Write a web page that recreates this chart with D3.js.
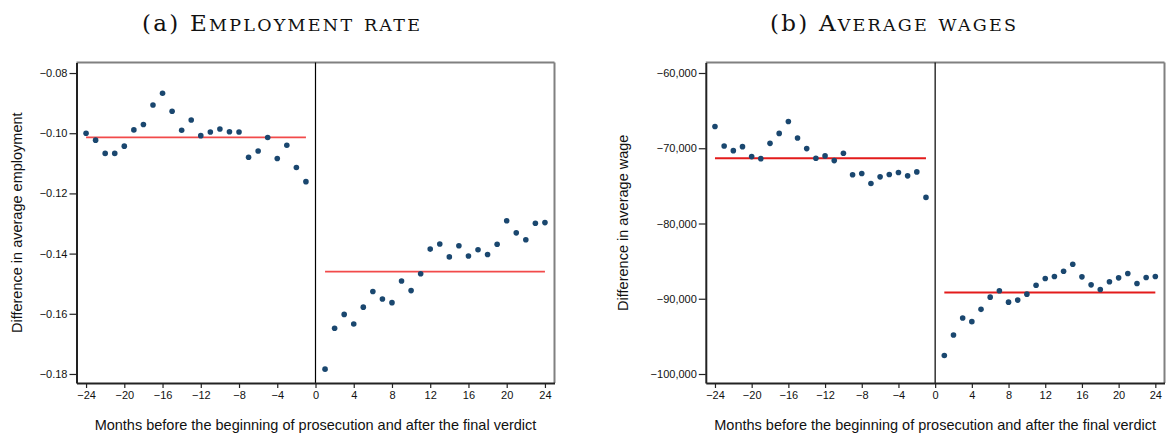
<!DOCTYPE html>
<meta charset="utf-8">
<script src="https://d3js.org/d3.v7.min.js"></script>
<style>
  body { margin: 0; background: #fff; }
  text { font-family: "Liberation Sans", Arial, sans-serif; }
</style>
<div id="chart"></div>
<script>
  // months before prosecution (pre) and after the final verdict (post)
  var monthsPre = [-24, -23, -22, -21, -20, -19, -18, -17, -16, -15, -14, -13,
    -12, -11, -10, -9, -8, -7, -6, -5, -4, -3, -2, -1];
  var monthsPost = [1, 2, 3, 4, 5, 6, 7, 8, 9, 10, 11, 12,
    13, 14, 15, 16, 17, 18, 19, 20, 21, 22, 23, 24];
  var xTicks = [-24, -20, -16, -12, -8, -4, 0, 4, 8, 12, 16, 20, 24];

  // (a) employment rate
  var employmentPre = [-0.1000, -0.1023, -0.1067, -0.1067, -0.1043, -0.0989, -0.0971, -0.0906,
    -0.0867, -0.0927, -0.0990, -0.0956, -0.1008, -0.0996, -0.0986, -0.0995,
    -0.0996, -0.1080, -0.1059, -0.1014, -0.1084, -0.1040, -0.1114, -0.1161];
  var employmentPost = [-0.1784, -0.1648, -0.1602, -0.1634, -0.1578, -0.1526, -0.1551, -0.1563,
    -0.1491, -0.1523, -0.1467, -0.1385, -0.1368, -0.1411, -0.1374, -0.1408,
    -0.1387, -0.1403, -0.1369, -0.1291, -0.1331, -0.1354, -0.1299, -0.1297];
  var employmentMeans = [-0.1014, -0.1460];
  var employmentTicks = [-0.08, -0.10, -0.12, -0.14, -0.16, -0.18];

  // (b) average wages
  var wagesPre = [-67100, -69700, -70320, -69790, -71110, -71380, -69350, -68030,
    -66440, -68640, -70050, -71330, -71020, -71640, -70670, -73530,
    -73360, -74680, -73800, -73490, -73230, -73670, -73140, -76530];
  var wagesPost = [-97540, -94810, -92560, -93040, -91410, -89790, -88940, -90450,
    -90180, -89390, -88200, -87310, -87050, -86350, -85420, -87090,
    -88150, -88770, -87750, -87220, -86650, -87980, -87180, -87050];
  var wageMeans = [-71330, -89170];
  var wageTicks = [-60000, -70000, -80000, -90000, -100000];

  var xTitle = "Months before the beginning of prosecution and after the final verdict";

  var width = 1166, height = 436;
  var svg = d3.select("#chart").append("svg")
    .attr("width", width)
    .attr("height", height);

  var panels = [
    {
      tag: "(a) ", title: "Employment rate", titleX: 281, titleW: 278,
      yTitle: "Difference in average employment", yTitleX: 17,
      pre: employmentPre, post: employmentPost, means: employmentMeans,
      yTicks: employmentTicks, yDomain: [-0.183, -0.0765], fmt: d3.format(".2f"),
      left: 76.5, right: 554.5, meanColor: "#f24a4a"
    },
    {
      tag: "(b) ", title: "Average wages", titleX: 893, titleW: 246,
      yTitle: "Difference in average wage", yTitleX: 623,
      pre: wagesPre, post: wagesPost, means: wageMeans,
      yTicks: wageTicks, yDomain: [-101196, -58605], fmt: d3.format(","),
      left: 705.8, right: 1164.5, meanColor: "#e31b1b"
    }
  ];

  var plotTop = 62.5, plotBottom = 383;

  panels.forEach(function (p) {
    var x = d3.scaleLinear().domain([-25, 25]).range([p.left, p.right]);
    var y = d3.scaleLinear().domain(p.yDomain).range([plotBottom, plotTop]);

    var g = svg.append("g");

    // grey frame on top and right
    g.append("line")
      .attr("x1", p.left).attr("x2", p.right)
      .attr("y1", plotTop).attr("y2", plotTop)
      .style("stroke", "#808080").style("stroke-width", 2);
    g.append("line")
      .attr("x1", p.right).attr("x2", p.right)
      .attr("y1", plotTop).attr("y2", plotBottom)
      .style("stroke", "#808080").style("stroke-width", 2);

    // vertical line at 0
    g.append("line")
      .attr("x1", x(0)).attr("x2", x(0))
      .attr("y1", plotTop).attr("y2", plotBottom)
      .style("stroke", "#000").style("stroke-width", 1.2);

    // axes
    var yAxis = g.append("g")
      .attr("transform", "translate(" + p.left + ",0)")
      .call(d3.axisLeft(y).tickValues(p.yTicks).tickFormat(p.fmt)
        .tickSize(7).tickSizeOuter(0).tickPadding(2));
    var xAxis = g.append("g")
      .attr("transform", "translate(0," + plotBottom + ")")
      .call(d3.axisBottom(x).tickValues(xTicks).tickFormat(d3.format("d"))
        .tickSize(5).tickSizeOuter(0).tickPadding(3));

    [yAxis, xAxis].forEach(function (a) {
      a.select(".domain").style("stroke", "#222").style("stroke-width", 2);
      a.selectAll(".tick line").style("stroke", "#222").style("stroke-width", 1.2);
      a.selectAll(".tick text").style("font-size", "11px").style("fill", "#111")
        .style("font-family", "'Liberation Sans', Arial, sans-serif");
    });

    // mean lines
    var periods = [monthsPre, monthsPost];
    periods.forEach(function (months, i) {
      g.append("line")
        .attr("x1", x(d3.min(months))).attr("x2", x(d3.max(months)))
        .attr("y1", y(p.means[i])).attr("y2", y(p.means[i]))
        .style("stroke", p.meanColor).style("stroke-width", 1.8);
    });

    // dots
    var pts = monthsPre.map(function (m, i) { return [m, p.pre[i]]; })
      .concat(monthsPost.map(function (m, i) { return [m, p.post[i]]; }));
    g.selectAll("circle")
      .data(pts)
      .enter()
      .append("circle")
      .attr("cx", function (d) { return x(d[0]); })
      .attr("cy", function (d) { return y(d[1]); })
      .attr("r", 2.8)
      .style("fill", "#1a476f");

    // axis titles
    g.append("text")
      .attr("x", (p.left + p.right) / 2)
      .attr("y", 430)
      .attr("text-anchor", "middle")
      .style("font-size", "14.5px")
      .style("fill", "#111")
      .text(xTitle);
    g.append("text")
      .attr("transform", "translate(" + p.yTitleX + "," + ((plotTop + plotBottom) / 2) + ") rotate(-90)")
      .attr("text-anchor", "middle")
      .attr("dy", "0.35em")
      .style("font-size", "14.5px")
      .style("fill", "#111")
      .text(p.yTitle);

    // panel title, small caps built from tspans
    var t = svg.append("text")
      .attr("x", p.titleX - p.titleW / 2)
      .attr("y", 31)
      .attr("textLength", p.titleW)
      .attr("lengthAdjust", "spacing")
      .style("font-family", "'DejaVu Serif', 'Liberation Serif', serif")
      .style("font-size", "23px")
      .style("fill", "#111");
    t.append("tspan").text(p.tag);
    var runs = p.title.match(/[A-Z ]+|[a-z]+/g);
    runs.forEach(function (r) {
      var small = /[a-z]/.test(r);
      t.append("tspan")
        .style("font-size", small ? "17.5px" : "23px")
        .text(r.toUpperCase());
    });
  });
</script>
